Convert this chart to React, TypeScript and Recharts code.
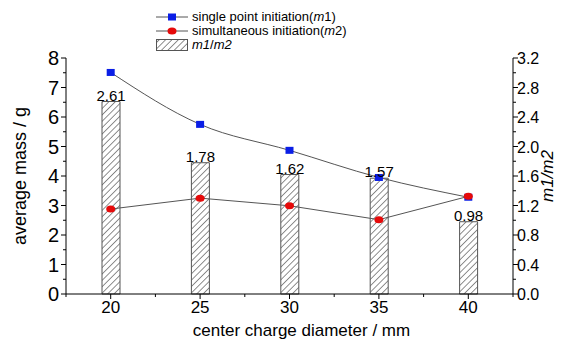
import React from 'react';
import { ComposedChart, Bar, Line, XAxis, YAxis, LabelList, Legend } from 'recharts';

const diameters = ['20', '25', '30', '35', '40'];
const singlePoint = [7.51, 5.75, 4.87, 3.95, 3.28]; // m1
const simultaneous = [2.88, 3.25, 2.99, 2.52, 3.31]; // m2
const ratio = [2.61, 1.78, 1.62, 1.57, 0.98]; // m1/m2

const leftTicks = [0, 0.5, 1, 1.5, 2, 2.5, 3, 3.5, 4, 4.5, 5, 5.5, 6, 6.5, 7, 7.5, 8];
const rightTicks = [0, 0.2, 0.4, 0.6, 0.8, 1.0, 1.2, 1.4, 1.6, 1.8, 2.0, 2.2, 2.4, 2.6, 2.8, 3.0, 3.2];

const data = diameters.map((d, i) => ({ d, m1: singlePoint[i], m2: simultaneous[i], ratio: ratio[i] }));

const W = 577;
const H = 342;
const M = { top: 16, left: 66, right: 64, bottom: 48 };
const BAND_HALF = (W - M.left - M.right) / diameters.length / 2;
const FONT = '"Liberation Sans", Arial, sans-serif';

const LeftTick = (props: any) => {
  const { x, y, payload } = props;
  const major = payload.value % 1 === 0;
  return (
    <g>
      <line x1={x} x2={x - (major ? 5 : 3)} y1={y} y2={y} stroke="#000" />
      {major && (
        <text x={x - 7} y={y} dy={7} textAnchor="end" fontSize={20} fontFamily={FONT} fill="#000">
          {payload.value}
        </text>
      )}
    </g>
  );
};

const RightTick = (props: any) => {
  const { x, y, payload } = props;
  const major = Math.round(payload.value * 10) % 4 === 0;
  return (
    <g>
      <line x1={x} x2={x + (major ? 5 : 3)} y1={y} y2={y} stroke="#000" />
      {major && (
        <text x={x + 4} y={y} dy={6} textAnchor="start" fontSize={16} fontFamily={FONT} fill="#000">
          {payload.value.toFixed(1)}
        </text>
      )}
    </g>
  );
};

const BottomTick = (props: any) => {
  const { x, y, payload, index } = props;
  return (
    <g>
      <line x1={x} x2={x} y1={y} y2={y + 5} stroke="#000" />
      <line x1={x - BAND_HALF} x2={x - BAND_HALF} y1={y} y2={y + 3} stroke="#000" />
      {index === diameters.length - 1 && (
        <line x1={x + BAND_HALF} x2={x + BAND_HALF} y1={y} y2={y + 3} stroke="#000" />
      )}
      <text x={x} y={y} dy={19} textAnchor="middle" fontSize={17} fontFamily={FONT} fill="#000">
        {payload.value}
      </text>
    </g>
  );
};

const SquareDot = (props: any) => {
  const { cx, cy } = props;
  return <rect x={cx - 4} y={cy - 3.5} width={8} height={7} fill="#0a1ee6" />;
};

const RoundDot = (props: any) => {
  const { cx, cy } = props;
  return <ellipse cx={cx} cy={cy} rx={4.5} ry={3.5} fill="#e60a0a" />;
};

const LegendBox = () => (
  <div style={{ fontFamily: FONT, fontSize: 13, lineHeight: '14px', color: '#000' }}>
    <div style={{ display: 'flex', alignItems: 'center', height: 14 }}>
      <svg width={36} height={14}>
        <line x1={2} x2={34} y1={7} y2={7} stroke="#555" />
        <rect x={14} y={3.5} width={8} height={7} fill="#0a1ee6" />
      </svg>
      <span style={{ marginLeft: 2 }}>single point initiation(<i>m</i>1)</span>
    </div>
    <div style={{ display: 'flex', alignItems: 'center', height: 14 }}>
      <svg width={36} height={14}>
        <line x1={2} x2={34} y1={7} y2={7} stroke="#555" />
        <ellipse cx={18} cy={7} rx={4.5} ry={3.5} fill="#e60a0a" />
      </svg>
      <span style={{ marginLeft: 2 }}>simultaneous initiation(<i>m</i>2)</span>
    </div>
    <div style={{ display: 'flex', alignItems: 'center', height: 14 }}>
      <svg width={36} height={14}>
        <rect x={2.5} y={1.5} width={31} height={11} fill="url(#hatch)" stroke="#555" />
      </svg>
      <span style={{ marginLeft: 2 }}><i>m1</i>/<i>m2</i></span>
    </div>
  </div>
);

export default function App() {
  return (
    <div style={{ width: W, height: H, background: '#fff' }}>
      <style>{'body{margin:0}'}</style>
      <ComposedChart width={W} height={H} data={data} margin={{ top: M.top, right: 0, left: 0, bottom: 0 }}>
        <defs>
          <pattern id="hatch" patternUnits="userSpaceOnUse" width={4.5} height={4.5} patternTransform="rotate(45)">
            <rect width={4.5} height={4.5} fill="#fff" />
            <line x1={0} y1={0} x2={0} y2={4.5} stroke="#444" strokeWidth={1.2} />
          </pattern>
        </defs>
        <XAxis
          dataKey="d"
          height={M.bottom}
          stroke="#000"
          tickLine={false}
          tickSize={0}
          tickMargin={0}
          tick={<BottomTick />}
          interval={0}
          label={{ value: 'center charge diameter / mm', position: 'insideBottom', offset: 6, dx: 12, fontSize: 17, fontFamily: FONT, fill: '#000' }}
        />
        <YAxis
          yAxisId="left"
          width={M.left}
          domain={[0, 8]}
          ticks={leftTicks}
          interval={0}
          stroke="#000"
          tickLine={false}
          tickSize={0}
          tickMargin={0}
          tick={<LeftTick />}
          label={{ value: 'average mass / g', angle: -90, position: 'insideLeft', offset: 20, style: { textAnchor: 'middle' }, fontSize: 18, fontFamily: FONT, fill: '#000' }}
        />
        <YAxis
          yAxisId="right"
          orientation="right"
          width={M.right}
          domain={[0, 3.2]}
          ticks={rightTicks}
          interval={0}
          stroke="#000"
          tickLine={false}
          tickSize={0}
          tickMargin={0}
          tick={<RightTick />}
          label={{ value: 'm1/m2', angle: -90, position: 'insideRight', offset: 30, style: { textAnchor: 'middle', fontStyle: 'italic' }, fontSize: 17, fontFamily: FONT, fill: '#000' }}
        />
        <Legend
          verticalAlign="top"
          align="left"
          content={<LegendBox />}
          wrapperStyle={{ position: 'absolute', top: 10, left: 154, width: 260 }}
        />
        <Bar yAxisId="right" dataKey="ratio" barSize={18} fill="url(#hatch)" stroke="#555" isAnimationActive={false}>
          <LabelList dataKey="ratio" position="top" offset={1} fontSize={15} fontFamily={FONT} fill="#000" formatter={(v: any) => Number(v).toFixed(2)} />
        </Bar>
        <Line yAxisId="left" dataKey="m1" type="monotone" stroke="#555" strokeWidth={1} dot={<SquareDot />} activeDot={false} isAnimationActive={false} />
        <Line yAxisId="left" dataKey="m2" type="linear" stroke="#555" strokeWidth={1} dot={<RoundDot />} activeDot={false} isAnimationActive={false} />
      </ComposedChart>
    </div>
  );
}
